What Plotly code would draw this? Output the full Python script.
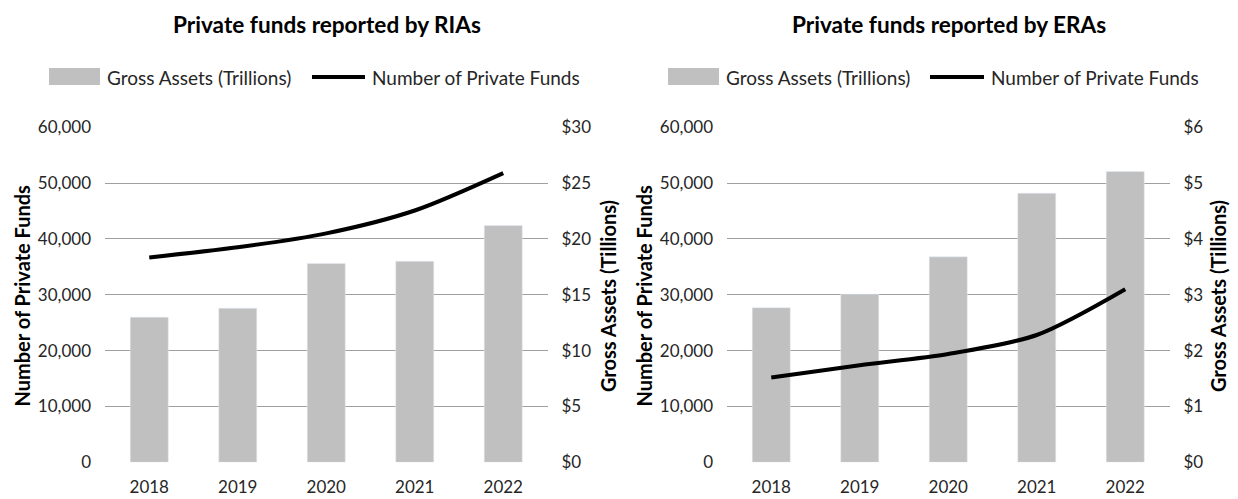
import plotly.graph_objects as go

years = ["2018", "2019", "2020", "2021", "2022"]
ria_assets = [13.0, 13.8, 17.8, 18.0, 21.2]
ria_funds = [36700, 38500, 41000, 45100, 51800]
era_assets = [2.77, 3.01, 3.68, 4.82, 5.21]
era_funds = [15200, 17400, 19400, 22800, 31000]

titles = ["Private funds reported by RIAs", "Private funds reported by ERAs"]
bar_name = "Gross Assets (Trillions)"
line_name = "Number of Private Funds"
left_title = "Number of Private Funds"
right_title = "Gross Assets (Tillions)"

W, H = 1238, 499
FONT = "Lato"
TXT = "#262626"
BAR = "#c0c0c0"
GRID = "#a0a0a0"
TICK = 17
LEG = 19
TITLE = 22.6
ATITLE = 20

def px(x):
    return x / W

def py(y):
    return 1 - y / H

fig = go.Figure()

panels = [
    dict(assets=ria_assets, funds=ria_funds, amax=30, adt=5, x0=105, x1=547.5,
         lt=21.5, rt=608, title_x=327, sw0=49, sw1=100, t1=105, l0=312, l1=365, t2=370),
    dict(assets=era_assets, funds=era_funds, amax=6, adt=1, x0=727, x1=1169.5,
         lt=643.5, rt=1218, title_x=949, sw0=668, sw1=719, t1=724, l0=930, l1=984, t2=989),
]

ydom = [py(462.3), py(127.3)]
layout = {}
annotations = []
shapes = []
for i, p in enumerate(panels):
    xa = "x" if i == 0 else "x2"
    ya_assets = "y" if i == 0 else "y3"
    ya_funds = "y2" if i == 0 else "y4"
    fig.add_trace(go.Bar(x=years, y=p["assets"], name=bar_name, marker_color=BAR,
                         xaxis=xa, yaxis=ya_assets, showlegend=False))
    fig.add_trace(go.Scatter(x=years, y=p["funds"], name=line_name, mode="lines",
                             line=dict(color="black", width=4, shape="spline", smoothing=0.8),
                             xaxis=xa, yaxis=ya_funds, showlegend=False))
    xkey = "xaxis" if i == 0 else "xaxis2"
    akey = "yaxis" if i == 0 else "yaxis3"
    fkey = "yaxis2" if i == 0 else "yaxis4"
    layout[xkey] = dict(domain=[px(p["x0"]), px(p["x1"])], anchor=ya_assets,
                        showgrid=False, showline=False, ticks="", automargin=False,
                        tickfont=dict(family=FONT, size=TICK, color=TXT), ticklabelstandoff=13)
    layout[akey] = dict(domain=ydom, anchor=xa, side="right", range=[0, p["amax"]],
                        dtick=p["adt"], tickprefix="$", showgrid=True, gridcolor=GRID,
                        gridwidth=1.2, zeroline=False, showline=False, automargin=False,
                        tickfont=dict(family=FONT, size=TICK, color=TXT), ticklabelstandoff=13)
    layout[fkey] = dict(domain=ydom, anchor=xa, overlaying=ya_assets, side="left",
                        range=[0, 60000], dtick=10000, tickformat=",", showgrid=False,
                        zeroline=False, showline=False, automargin=False,
                        tickfont=dict(family=FONT, size=TICK, color=TXT), ticklabelstandoff=13)

    # axis titles
    annotations.append(dict(text="<b>" + left_title + "</b>", x=px(p["lt"]), y=py(296),
                            xref="paper", yref="paper", showarrow=False, textangle=-90,
                            xanchor="center", yanchor="middle",
                            font=dict(family=FONT, size=ATITLE, color="black")))
    annotations.append(dict(text="<b>" + right_title + "</b>", x=px(p["rt"]), y=py(296),
                            xref="paper", yref="paper", showarrow=False, textangle=-90,
                            xanchor="center", yanchor="middle",
                            font=dict(family=FONT, size=ATITLE, color="black")))
    # chart title
    annotations.append(dict(text="<b>" + titles[i] + "</b>", x=px(p["title_x"]), y=py(24),
                            xref="paper", yref="paper", showarrow=False, xanchor="center",
                            yanchor="middle", font=dict(family=FONT, size=TITLE, color="black")))
    # legend
    shapes.append(dict(type="rect", xref="paper", yref="paper", x0=px(p["sw0"]), x1=px(p["sw1"]),
                       y0=py(85), y1=py(68), fillcolor=BAR, line=dict(width=0)))
    annotations.append(dict(text=bar_name, x=px(p["t1"]), y=py(77), xref="paper", yref="paper",
                            showarrow=False, xanchor="left", yanchor="middle",
                            font=dict(family=FONT, size=LEG, color=TXT)))
    shapes.append(dict(type="line", xref="paper", yref="paper", x0=px(p["l0"]), x1=px(p["l1"]),
                       y0=py(77), y1=py(77), line=dict(color="black", width=4)))
    annotations.append(dict(text=line_name, x=px(p["t2"]), y=py(77), xref="paper", yref="paper",
                            showarrow=False, xanchor="left", yanchor="middle",
                            font=dict(family=FONT, size=LEG, color=TXT)))

fig.update_layout(**layout)
fig.update_layout(
    width=W, height=H,
    margin=dict(l=0, r=0, t=0, b=0, autoexpand=False),
    paper_bgcolor="white", plot_bgcolor="white",
    bargap=0.57, showlegend=False,
    annotations=annotations, shapes=shapes,
    font=dict(family=FONT, color=TXT),
)

fig.write_html("out.html", config={"displayModeBar": False},
               post_script="document.body.style.margin='0';document.body.style.overflow='hidden';")
